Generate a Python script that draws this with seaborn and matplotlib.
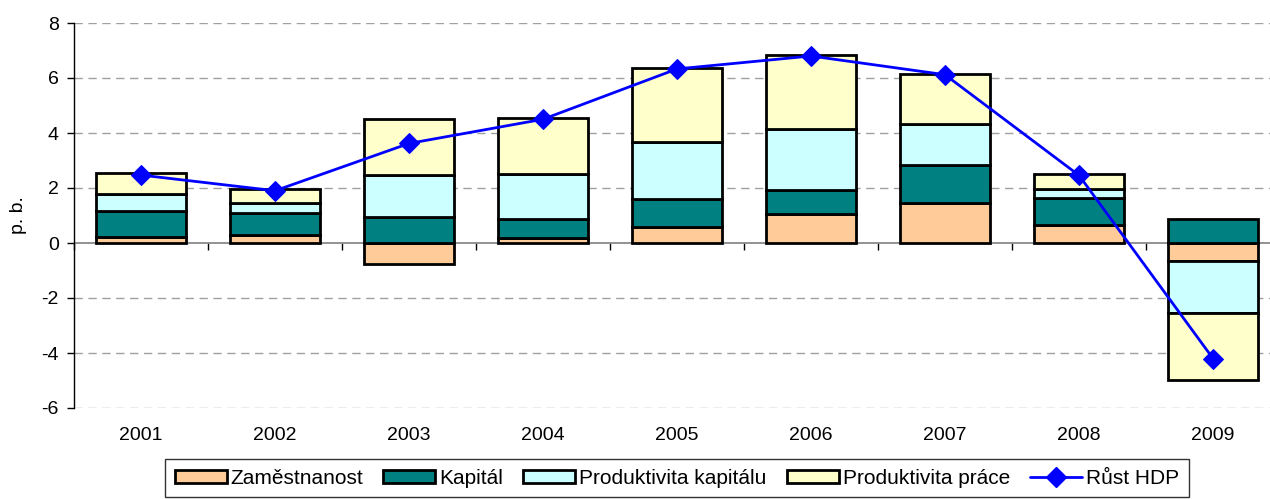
import numpy as np
import pandas as pd
import matplotlib
matplotlib.use("Agg")
import matplotlib.pyplot as plt
import seaborn as sns
from matplotlib.patches import Patch
from matplotlib.lines import Line2D

years = ["2001", "2002", "2003", "2004", "2005", "2006", "2007", "2008", "2009"]
zamestnanost = [0.22, 0.30, -0.75, 0.17, 0.57, 1.05, 1.44, 0.67, -0.65]
kapital = [0.94, 0.78, 0.93, 0.69, 1.02, 0.86, 1.38, 0.95, 0.88]
produktivita_kapitalu = [0.62, 0.39, 1.55, 1.64, 2.09, 2.22, 1.51, 0.36, -1.91]
produktivita_prace = [0.77, 0.48, 2.02, 2.05, 2.68, 2.70, 1.83, 0.52, -2.42]
rust_hdp = [2.47, 1.90, 3.62, 4.50, 6.33, 6.80, 6.12, 2.46, -4.20]

series_names = ["Zaměstnanost", "Kapitál", "Produktivita kapitálu", "Produktivita práce"]
series_vals = [zamestnanost, kapital, produktivita_kapitalu, produktivita_prace]
colors = ["#FFCC99", "#008080", "#CCFFFF", "#FFFFCC"]

sns.set_theme(style="white")
plt.rcParams["font.family"] = ["Liberation Sans", "DejaVu Sans"]
plt.rcParams["text.color"] = "black"
plt.rcParams["axes.labelcolor"] = "black"
plt.rcParams["xtick.color"] = "black"
plt.rcParams["ytick.color"] = "black"

FS = 14

fig = plt.figure(figsize=(12.7, 4.99), dpi=100)
ax = fig.add_axes([74 / 1270, (499 - 408) / 499, (1280 - 74) / 1270, 385 / 499])

pos_base = np.zeros(len(years))
neg_base = np.zeros(len(years))
for name, vals, col in zip(series_names, series_vals, colors):
    v = np.array(vals, dtype=float)
    bottoms = np.where(v >= 0, pos_base, neg_base)
    df = pd.DataFrame({"year": years, "value": v})
    sns.barplot(data=df, x="year", y="value", order=years, color=col,
                saturation=1, width=0.67, bottom=bottoms,
                edgecolor="black", linewidth=2.0, ax=ax, zorder=3)
    pos_base = pos_base + np.where(v >= 0, v, 0)
    neg_base = neg_base + np.where(v < 0, v, 0)

df_line = pd.DataFrame({"x": np.arange(len(years)), "y": rust_hdp})
sns.lineplot(data=df_line, x="x", y="y", color="#0000FF", linewidth=2,
             marker="D", markersize=10, markeredgecolor="#0000FF", ax=ax, zorder=5)

ax.set_ylim(-6, 8)
ax.set_xlim(-0.5, 8.5)
ax.set_yticks(np.arange(-6, 9, 2))
ax.set_yticklabels([str(int(t)) for t in np.arange(-6, 9, 2)], fontsize=FS)
for y in np.arange(-6, 9, 2):
    if y != 0:
        ax.axhline(y, color="#A0A0A0", linestyle=(0, (6, 4)), linewidth=1, zorder=0)
ax.axhline(0, color="#808080", linewidth=1.2, zorder=2)

ax.set_xticks(np.arange(len(years)))
ax.set_xticklabels(years, fontsize=FS)
ax.tick_params(axis="x", length=0, pad=14)
ax.tick_params(axis="y", direction="out", length=5, width=1, color="black", pad=6, left=True)
for s in ["top", "right", "bottom"]:
    ax.spines[s].set_visible(False)
ax.spines["left"].set_color("black")
ax.spines["left"].set_linewidth(1)

sec = ax.secondary_xaxis(6 / 14)
sec.set_xticks(np.arange(len(years) + 1) - 0.5)
sec.set_xticklabels([])
sec.tick_params(axis="x", direction="out", length=5, color="black", width=1)
sec.spines["bottom"].set_visible(False)

ax.set_xlabel("")
ax.set_ylabel("p. b.", fontsize=FS, labelpad=10)

handles = [Patch(facecolor=c, edgecolor="black", linewidth=2) for c in colors]
handles.append(Line2D([0], [0], color="#0000FF", linewidth=2, marker="D", markersize=10))
labels = series_names + ["Růst HDP"]
leg = fig.legend(handles, labels, loc="center", bbox_to_anchor=(0.533, 0.042), ncol=5,
                 fontsize=15, frameon=True, fancybox=False, edgecolor="black",
                 handlelength=2.5, handleheight=0.6, handletextpad=0.2,
                 columnspacing=0.95, borderpad=0.45, borderaxespad=0)
leg.get_frame().set_linewidth(1)

fig.savefig("out.png", dpi=100)
